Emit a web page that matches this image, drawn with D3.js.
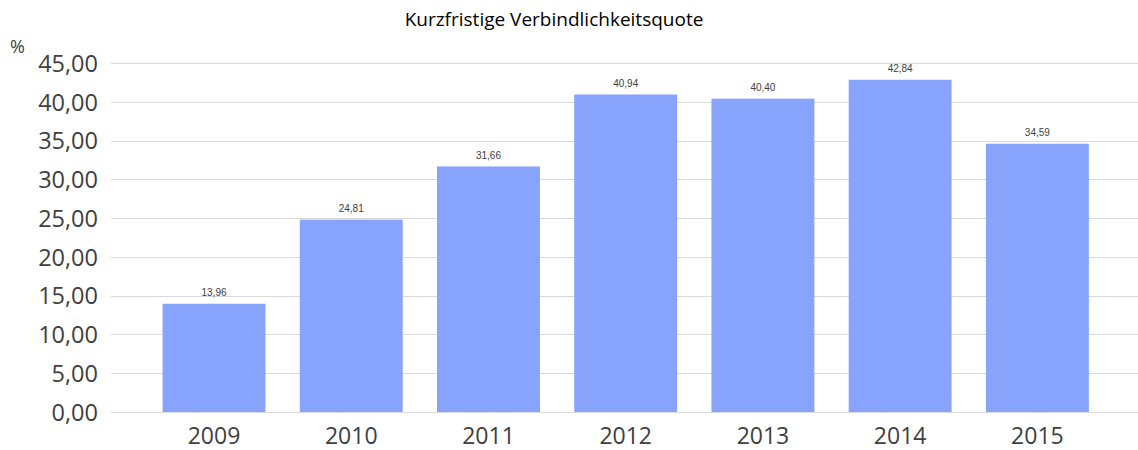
<!DOCTYPE html>
<html>
<head>
<meta charset="utf-8">
<script src="https://cdn.jsdelivr.net/npm/d3@7"></script>
<style>
  html, body { margin: 0; padding: 0; background: #fff; }
  svg { display: block; }
</style>
</head>
<body>
<svg id="chart" width="1138" height="450"></svg>
<script>
// Kurzfristige Verbindlichkeitsquote, 2009–2015 (in %)
const years = ["2009", "2010", "2011", "2012", "2013", "2014", "2015"];
const quote = [13.96, 24.81, 31.66, 40.94, 40.40, 42.84, 34.59];
const yTicks = [0, 5, 10, 15, 20, 25, 30, 35, 40, 45];

const W = 1138, H = 450;
const gridLeft = 111, gridRight = 1138;
const bandLeft = 145.4, bandRight = 1106;
const yBottom = 412, yTop = 63;

const svg = d3.select("#chart");
const fmt = v => d3.format(".2f")(v).replace(".", ",");

const x = d3.scaleBand().domain(years).range([bandLeft, bandRight]).paddingInner(0.25).paddingOuter(0.125);
const y = d3.scaleLinear().domain([0, 45]).range([yBottom, yTop]);

// horizontal gridlines
svg.append("g").selectAll("line").data(yTicks).join("line")
  .attr("x1", gridLeft).attr("x2", gridRight)
  .attr("y1", d => Math.round(y(d)) + 0.5).attr("y2", d => Math.round(y(d)) + 0.5)
  .attr("stroke", "#d9d9d9").attr("stroke-width", 1);

// y axis labels
const yAxis = d3.axisLeft(y).tickValues(yTicks).tickFormat(fmt).tickSize(0).tickPadding(0);
svg.append("g").attr("transform", `translate(98,0)`).call(yAxis)
  .call(g => g.select(".domain").remove())
  .call(g => g.selectAll("text")
    .attr("font-family", "'Open Sans', sans-serif").attr("font-size", 23.5)
    .attr("fill", "#404040").attr("dy", "0.35em"));

// bars
svg.append("g").selectAll("rect").data(years).join("rect")
  .attr("x", d => x(d)).attr("width", x.bandwidth())
  .attr("y", (d, i) => y(quote[i])).attr("height", (d, i) => y(0) - y(quote[i]))
  .attr("fill", "#88a3fc");

// value labels
svg.append("g").selectAll("text").data(years).join("text")
  .attr("x", d => x(d) + x.bandwidth() / 2)
  .attr("y", (d, i) => y(quote[i]) - 7.5)
  .attr("text-anchor", "middle")
  .attr("font-family", "'Liberation Sans', Arial, sans-serif").attr("font-size", 10)
  .attr("fill", "#404040")
  .text((d, i) => fmt(quote[i]));

// x axis labels
const xAxis = d3.axisBottom(x).tickSize(0).tickPadding(0);
svg.append("g").attr("transform", `translate(0,${yBottom})`).call(xAxis)
  .call(g => g.select(".domain").remove())
  .call(g => g.selectAll("text")
    .attr("font-family", "'Open Sans', sans-serif").attr("font-size", 23)
    .attr("fill", "#404040").attr("y", 32).attr("dy", 0));

// title and unit
svg.append("text").attr("x", 554).attr("y", 26).attr("text-anchor", "middle")
  .attr("font-family", "'Open Sans', sans-serif").attr("font-size", 19).attr("fill", "#000")
  .text("Kurzfristige Verbindlichkeitsquote");
svg.append("text").attr("x", 10).attr("y", 53)
  .attr("font-family", "'Open Sans', sans-serif").attr("font-size", 18).attr("fill", "#404040")
  .text("%");
</script>
</body>
</html>
